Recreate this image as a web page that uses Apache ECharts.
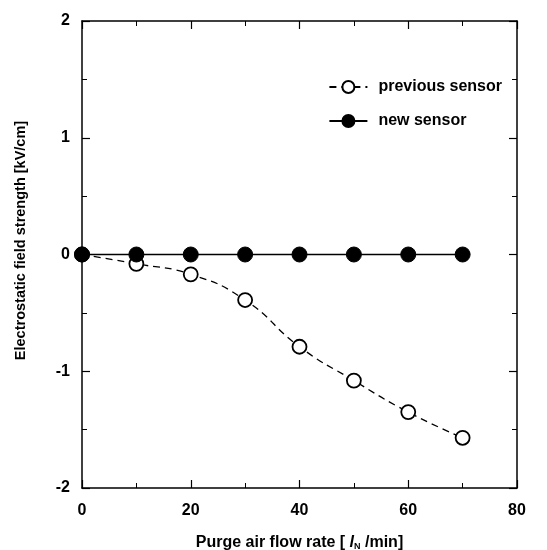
<!DOCTYPE html>
<html>
<head>
<meta charset="utf-8">
<script src="https://cdn.jsdelivr.net/npm/echarts@6/dist/echarts.min.js"></script>
<style>
  html, body { margin: 0; padding: 0; background: #fff; }
  #chart { width: 547px; height: 550px; }
</style>
</head>
<body>
<div id="chart"></div>
<script>
// purge air flow rate [lN/min]
const flowRate = [0, 10, 20, 30, 40, 50, 60, 70];
// electrostatic field strength [kV/cm]
const previousSensor = [0, -0.08, -0.17, -0.39, -0.79, -1.08, -1.35, -1.57];
const newSensor = [0, 0, 0, 0, 0, 0, 0, 0];
const seriesNames = ['previous sensor', 'new sensor'];

const font = 'Liberation Sans, Arial, sans-serif';
const chart = echarts.init(document.getElementById('chart'), null, { renderer: 'canvas' });

const frameAxis = {
  axisLine: { show: true, onZero: false, lineStyle: { color: '#000', width: 1.5 } },
  axisTick: { show: true, inside: true, length: 8, lineStyle: { color: '#000', width: 1.2 } },
  minorTick: { show: true, splitNumber: 2, length: 5, lineStyle: { color: '#000', width: 1 } },
  splitLine: { show: false }
};

const option = {
  animation: false,
  textStyle: { fontFamily: font },
  grid: { left: 82, right: 30, top: 21, bottom: 62, outerBoundsMode: 'none' },
  legend: {
    orient: 'vertical',
    right: 40,
    top: 74,
    itemGap: 18,
    itemWidth: 38,
    itemHeight: 15,
    textStyle: { fontSize: 16, fontWeight: 'bold', color: '#000', fontFamily: font, padding: [0, 0, 0, 6] },
    data: seriesNames
  },
  xAxis: [
    {
      ...frameAxis,
      type: 'value', min: 0, max: 80, interval: 20,
      axisLabel: { color: '#000', fontSize: 16, fontWeight: 'bold', margin: 15 },
      name: '{a|Purge air flow rate [ }{i|l}{s|N}{a| /min]}',
      nameLocation: 'middle', nameGap: 47,
      nameTextStyle: {
        rich: {
          a: { fontSize: 16, fontWeight: 'bold', color: '#000', fontFamily: font },
          i: { fontSize: 16, fontWeight: 'bold', fontStyle: 'italic', color: '#000', fontFamily: font },
          s: { fontSize: 9, fontWeight: 'bold', color: '#000', fontFamily: font, verticalAlign: 'bottom', padding: [7, 0, 0, 0] }
        }
      }
    },
    {
      ...frameAxis,
      type: 'value', min: 0, max: 80, interval: 20, position: 'top',
      axisLabel: { show: false }
    }
  ],
  yAxis: [
    {
      ...frameAxis,
      type: 'value', min: -2, max: 2, interval: 1,
      axisLabel: { color: '#000', fontSize: 16, fontWeight: 'bold', margin: 12 },
      name: 'Electrostatic field strength [kV/cm]',
      nameLocation: 'middle', nameGap: 54,
      nameTextStyle: { fontSize: 14.5, fontWeight: 'bold', color: '#000', padding: [0, 0, 0, 28] }
    },
    {
      ...frameAxis,
      type: 'value', min: -2, max: 2, interval: 1, position: 'right',
      axisLabel: { show: false }
    }
  ],
  series: [
    {
      name: seriesNames[0],
      type: 'line',
      data: flowRate.map((x, i) => [x, previousSensor[i]]),
      smooth: 0.5,
      symbol: 'circle',
      symbolSize: 14,
      lineStyle: { color: '#000', width: 1.3, type: [7, 5] },
      itemStyle: { color: '#fff', borderColor: '#000', borderWidth: 1.8 },
      z: 2
    },
    {
      name: seriesNames[1],
      type: 'line',
      data: flowRate.map((x, i) => [x, newSensor[i]]),
      symbol: 'circle',
      symbolSize: 15,
      lineStyle: { color: '#000', width: 1.5 },
      itemStyle: { color: '#000', borderColor: '#000', borderWidth: 1 },
      z: 3
    }
  ]
};

chart.setOption(option);
</script>
</body>
</html>
